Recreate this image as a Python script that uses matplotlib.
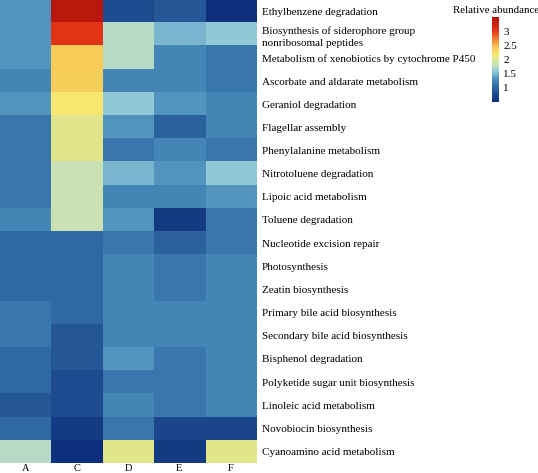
import numpy as np
import matplotlib
matplotlib.use("Agg")
import matplotlib.pyplot as plt
from matplotlib.colors import LinearSegmentedColormap

samples = ["A", "C", "D", "E", "F"]
pathways = [
    "Ethylbenzene degradation",
    "Biosynthesis of siderophore group\nnonribosomal peptides",
    "Metabolism of xenobiotics by cytochrome P450",
    "Ascorbate and aldarate metabolism",
    "Geraniol degradation",
    "Flagellar assembly",
    "Phenylalanine metabolism",
    "Nitrotoluene degradation",
    "Lipoic acid metabolism",
    "Toluene degradation",
    "Nucleotide excision repair",
    "Photosynthesis",
    "Zeatin biosynthesis",
    "Primary bile acid biosynthesis",
    "Secondary bile acid biosynthesis",
    "Bisphenol degradation",
    "Polyketide sugar unit biosynthesis",
    "Linoleic acid metabolism",
    "Novobiocin biosynthesis",
    "Cyanoamino acid metabolism",
]

# relative abundance, columns A C D E F
col_A = [1.35, 1.35, 1.35, 1.25, 1.35, 1.15, 1.15, 1.15, 1.15, 1.25,
         1.05, 1.05, 1.05, 1.15, 1.15, 1.05, 1.05, 0.90, 1.05, 1.75]
col_C = [3.40, 3.05, 2.40, 2.38, 2.20, 2.05, 2.05, 1.85, 1.85, 1.85,
         1.05, 1.05, 1.05, 1.05, 0.90, 0.90, 0.80, 0.80, 0.65, 0.55]
col_D = [0.80, 1.75, 1.75, 1.25, 1.60, 1.35, 1.15, 1.50, 1.25, 1.35,
         1.15, 1.25, 1.25, 1.25, 1.25, 1.35, 1.15, 1.25, 1.15, 2.05]
col_E = [0.90, 1.50, 1.25, 1.25, 1.35, 1.00, 1.25, 1.35, 1.25, 0.65,
         1.00, 1.15, 1.15, 1.25, 1.25, 1.15, 1.15, 1.15, 0.75, 0.65]
col_F = [0.55, 1.60, 1.15, 1.15, 1.25, 1.25, 1.15, 1.60, 1.35, 1.15,
         1.15, 1.25, 1.25, 1.25, 1.25, 1.25, 1.25, 1.25, 0.75, 2.05]

data = np.array([col_A, col_C, col_D, col_E, col_F]).T

cmap = LinearSegmentedColormap.from_list("abund", [
    (0.00, "#0c2a78"),
    (0.17, "#2c64a0"),
    (0.27, "#4a8dbb"),
    (0.37, "#95cddb"),
    (0.43, "#c2e0c0"),
    (0.50, "#dce597"),
    (0.57, "#f9e86f"),
    (0.66, "#f8c050"),
    (0.83, "#e63a18"),
    (1.00, "#b0100a"),
])

plt.rcParams['font.family'] = ['Liberation Serif', 'DejaVu Serif']

fig = plt.figure(figsize=(5.38, 4.73), dpi=100)
ax = fig.add_axes([0.0, 0.021, 0.476, 0.979])
im = ax.imshow(data, cmap=cmap, vmin=0.5, vmax=3.5, aspect='auto',
               interpolation='nearest')
ax.set_xticks(range(len(samples)))
ax.set_xticklabels(samples, fontsize=7.5)
ax.set_yticks(range(len(pathways)))
ax.set_yticklabels(pathways, fontsize=8, linespacing=1.35)
ax.yaxis.tick_right()
ax.tick_params(length=0, pad=4)
ax.tick_params(axis='x', pad=1)
for s in ax.spines.values():
    s.set_visible(False)

cax = fig.add_axes([0.9145, 0.784, 0.013, 0.18])
cb = fig.colorbar(im, cax=cax, ticks=[1, 1.5, 2, 2.5, 3])
cb.ax.set_yticklabels(["1", "1.5", "2", "2.5", "3"], fontsize=8)
cb.ax.tick_params(length=0, pad=3)
cb.outline.set_visible(False)
fig.text(0.842, 0.988, "Relative abundance", fontsize=7.8, va='top', ha='left')

fig.savefig("out.png", dpi=100)
